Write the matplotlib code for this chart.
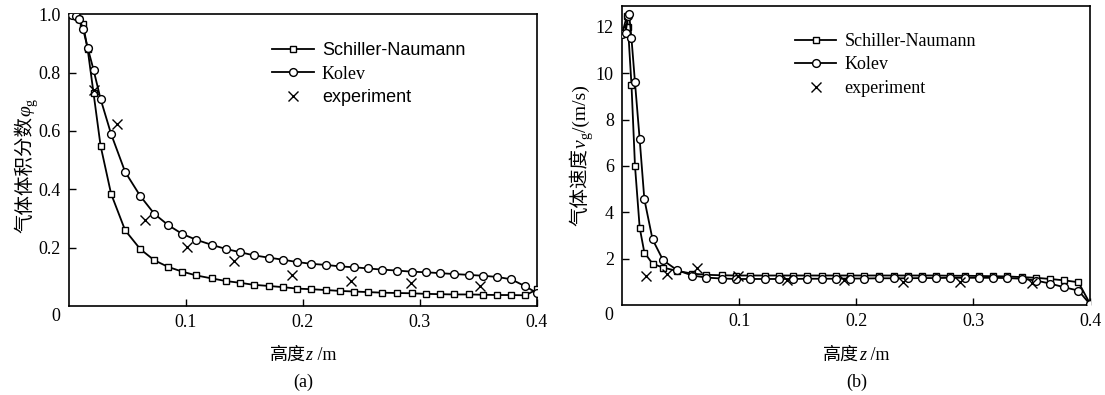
import matplotlib
matplotlib.use("Agg")
import matplotlib.pyplot as plt
from matplotlib.transforms import IdentityTransform

plt.rcParams['font.family'] = ['Liberation Serif', 'Noto Sans CJK SC']

# (a) gas volume fraction
z_a = [0, 0.003, 0.006, 0.009, 0.012, 0.016, 0.021, 0.027, 0.036, 0.048, 0.061,
       0.073, 0.085, 0.097, 0.109, 0.122, 0.134, 0.146, 0.158, 0.171, 0.183,
       0.195, 0.207, 0.220, 0.232, 0.244, 0.256, 0.268, 0.280, 0.293, 0.305,
       0.317, 0.329, 0.342, 0.354, 0.366, 0.378, 0.390, 0.400]
phi_sn = [1.0, 1.0, 0.995, 0.985, 0.966, 0.88, 0.73, 0.55, 0.385, 0.26, 0.195,
          0.157, 0.134, 0.118, 0.105, 0.095, 0.086, 0.080, 0.073, 0.069, 0.065,
          0.060, 0.058, 0.055, 0.052, 0.050, 0.048, 0.046, 0.045, 0.044, 0.042,
          0.041, 0.040, 0.040, 0.039, 0.038, 0.038, 0.037, 0.057]
phi_kolev = [1.0, 0.998, 0.993, 0.985, 0.95, 0.885, 0.81, 0.71, 0.59, 0.46, 0.377,
             0.316, 0.277, 0.247, 0.227, 0.21, 0.196, 0.185, 0.174, 0.166, 0.159,
             0.151, 0.145, 0.141, 0.136, 0.133, 0.129, 0.125, 0.122, 0.118, 0.116,
             0.113, 0.110, 0.107, 0.104, 0.100, 0.092, 0.068, 0.045]
z_exp_a = [0.021, 0.041, 0.065, 0.101, 0.141, 0.191, 0.241, 0.292, 0.351]
phi_exp = [0.74, 0.625, 0.295, 0.203, 0.154, 0.106, 0.086, 0.078, 0.068]

# (b) gas velocity
z_b_sn = [0, 0.004, 0.005, 0.008, 0.011, 0.015, 0.019, 0.026, 0.035, 0.047, 0.060,
          0.072, 0.085, 0.097, 0.109, 0.122, 0.134, 0.146, 0.158, 0.171, 0.183,
          0.195, 0.207, 0.220, 0.232, 0.244, 0.256, 0.268, 0.280, 0.293, 0.305,
          0.317, 0.329, 0.342, 0.354, 0.366, 0.378, 0.390, 0.400]
v_sn = [11.7, 12.45, 12.0, 9.5, 6.0, 3.34, 2.26, 1.78, 1.61, 1.47, 1.35,
        1.30, 1.28, 1.27, 1.27, 1.27, 1.27, 1.27, 1.27, 1.27, 1.27,
        1.27, 1.27, 1.27, 1.27, 1.27, 1.27, 1.27, 1.26, 1.26, 1.25,
        1.24, 1.23, 1.20, 1.17, 1.12, 1.06, 0.98, 0.05]
z_b_kolev = [0, 0.003, 0.005, 0.006, 0.008, 0.011, 0.015, 0.019, 0.026, 0.035, 0.047,
             0.060, 0.072, 0.085, 0.097, 0.109, 0.122, 0.134, 0.146, 0.158, 0.171,
             0.183, 0.195, 0.207, 0.220, 0.232, 0.244, 0.256, 0.268, 0.280, 0.293,
             0.305, 0.317, 0.329, 0.342, 0.354, 0.366, 0.378, 0.390, 0.400]
v_kolev = [11.7, 11.75, 12.45, 12.55, 11.5, 9.6, 7.15, 4.56, 2.83, 1.93, 1.5,
           1.27, 1.18, 1.14, 1.12, 1.12, 1.12, 1.12, 1.12, 1.13, 1.13,
           1.13, 1.14, 1.14, 1.15, 1.15, 1.15, 1.16, 1.16, 1.17, 1.17,
           1.17, 1.17, 1.16, 1.13, 1.05, 0.92, 0.76, 0.62, 0.03]
z_exp_b = [0.020, 0.038, 0.064, 0.099, 0.141, 0.190, 0.240, 0.289, 0.350]
v_exp = [1.25, 1.35, 1.61, 1.24, 1.06, 1.06, 1.0, 1.0, 0.96]

fig = plt.figure(figsize=(11.05, 3.95), dpi=100)
ax1 = fig.add_axes([0.0624, 0.225, 0.4235, 0.739])
ax2 = fig.add_axes([0.563, 0.228, 0.4235, 0.757])

sq = dict(color='black', lw=1.3, marker='s', ms=4.8, mfc='white', mec='black', mew=1.0)
ci = dict(color='black', lw=1.3, marker='o', ms=5.6, mfc='white', mec='black', mew=1.0)
ex = dict(ls='none', marker='x', ms=6.5, color='black', mew=1.0)

cjk = dict(family=['Noto Sans CJK SC'])
ital = dict(family=['Liberation Serif'], style='italic')
rom = dict(family=['Liberation Serif'])


def rich(ax, anchor, parts, vertical=False):
    # place text pieces one after another; anchor = centre of the baseline (axes coords)
    r = fig.canvas.get_renderer()
    x0, y0 = ax.transAxes.transform(anchor)
    texts = []
    for s, kw, size, shift in parts:
        t = fig.text(0, 0, s, transform=IdentityTransform(), fontsize=size,
                     rotation=90 if vertical else 0, rotation_mode='anchor',
                     ha='left', va='baseline', **kw)
        bb = t.get_window_extent(r)
        texts.append((t, bb.height if vertical else bb.width, shift))
    pos = -sum(L for _, L, _ in texts) / 2
    for t, L, shift in texts:
        if vertical:
            t.set_position((x0 + shift, y0 + pos))
        else:
            t.set_position((x0 + pos, y0 - shift))
        pos += L


def style(ax, ylim, yticks):
    ax.set_xlim(0, 0.4)
    ax.set_ylim(*ylim)
    ax.set_xticks([0.1, 0.2, 0.3, 0.4])
    ax.set_xticklabels(['0.1', '0.2', '0.3', '0.4'])
    ax.set_yticks(yticks)
    ax.tick_params(direction='in', length=5, width=1, labelsize=13, pad=6,
                   top=False, right=False)
    for s in ax.spines.values():
        s.set_linewidth(1.2)
    ax.text(-0.028, -0.035, '0', transform=ax.transAxes, ha='center', va='center',
            fontsize=13)
    rich(ax, (0.5, -0.185), [('高度', cjk, 13, 0), ('z', ital, 13, 0), (' /m', rom, 13, 0)])


# (a)
ax1.plot(z_a, phi_sn, label='Schiller-Naumann', zorder=3, **sq)
ax1.plot(z_a, phi_kolev, label='Kolev', zorder=4, **ci)
ax1.plot(z_exp_a, phi_exp, label='experiment', zorder=5, **ex)
style(ax1, (0, 1.0), [0.2, 0.4, 0.6, 0.8, 1.0])
ax1.set_yticklabels(['0.2', '0.4', '0.6', '0.8', '1.0'])
rich(ax1, (-0.083, 0.48), [('气体体积分数', cjk, 14, 0), ('φ', ital, 14, 0),
                          ('g', rom, 10, 4)], vertical=True)
leg1 = ax1.legend(loc='upper left', bbox_to_anchor=(0.415, 0.935), frameon=False,
                  fontsize=13, handlelength=2.3, numpoints=1, labelspacing=0.36,
                  handletextpad=0.45, borderpad=0)
for t in leg1.get_texts():
    if t.get_text() != 'Kolev':
        t.set_family(['Liberation Sans', 'DejaVu Sans'])
fig.text(0.274, 0.033, '(a)', ha='center', va='center', fontsize=13)

# (b)
ax2.plot(z_b_sn, v_sn, label='Schiller-Naumann', zorder=3, **sq)
ax2.plot(z_b_kolev, v_kolev, label='Kolev', zorder=4, **ci)
ax2.plot(z_exp_b, v_exp, label='experiment', zorder=5, **ex)
style(ax2, (0, 12.9), [2, 4, 6, 8, 10, 12])
rich(ax2, (-0.078, 0.5), [('气体速度', cjk, 14, 0), ('v', ital, 14, 0),
                         ('g', rom, 10, 4), ('/(m/s)', rom, 14, 0)], vertical=True)
ax2.legend(loc='upper left', bbox_to_anchor=(0.35, 0.94), frameon=False,
           fontsize=13, handlelength=2.3, numpoints=1, labelspacing=0.36,
           handletextpad=0.45, borderpad=0)
fig.text(0.775, 0.033, '(b)', ha='center', va='center', fontsize=13)

fig.savefig('out.png', dpi=100)
